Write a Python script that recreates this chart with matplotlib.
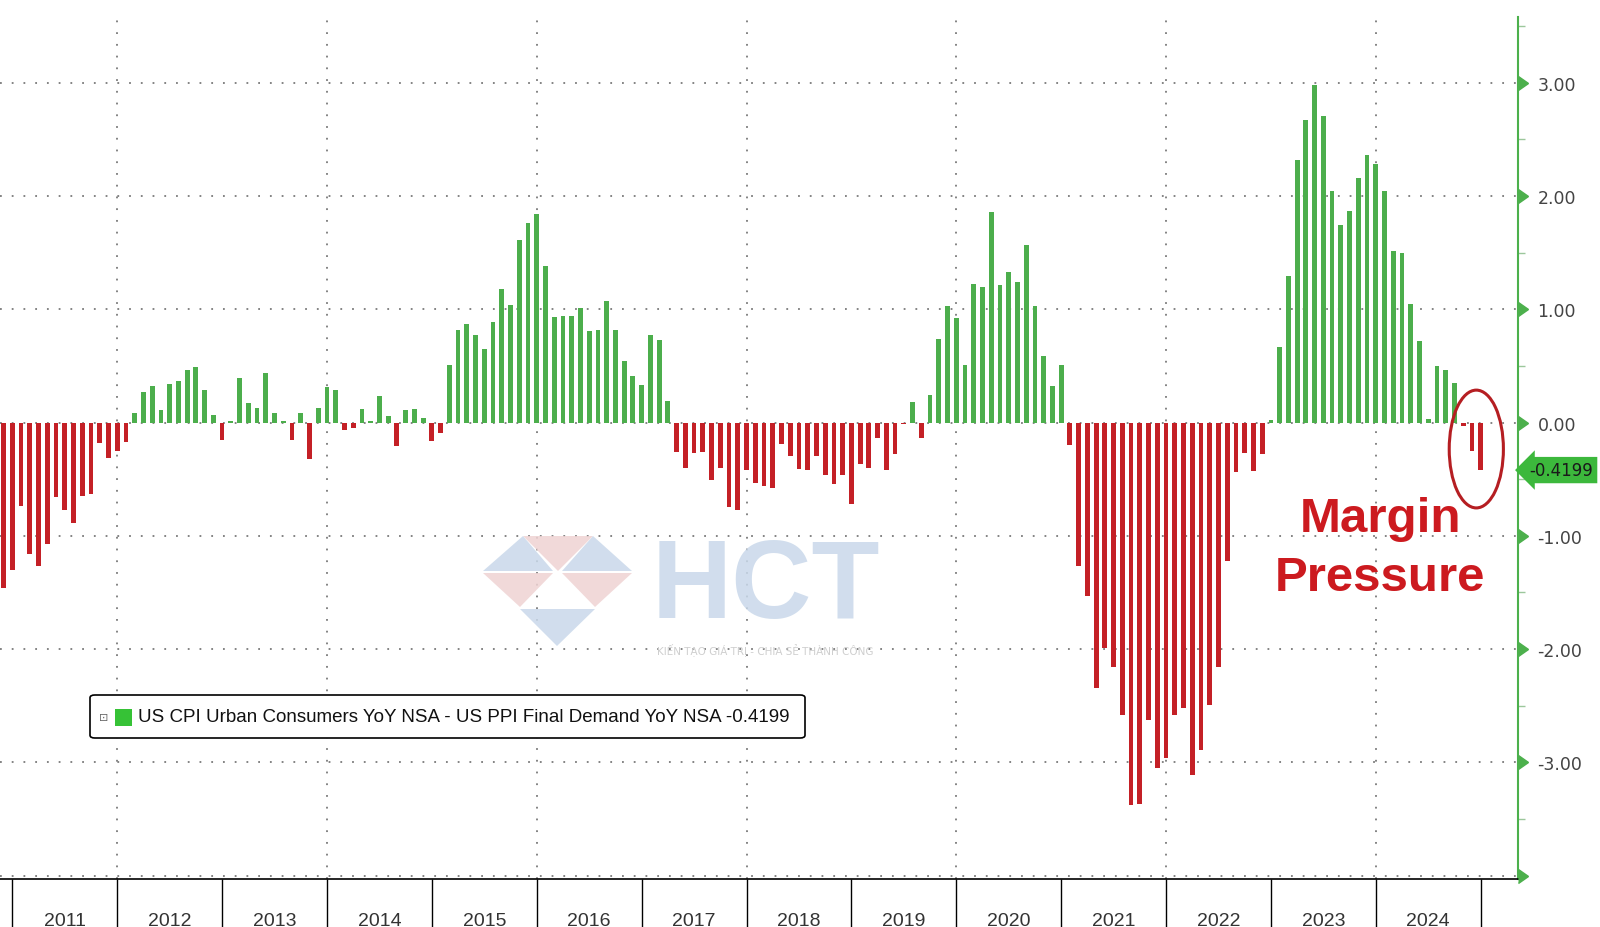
import numpy as np
import pandas as pd
import matplotlib
matplotlib.use('Agg')
import matplotlib.pyplot as plt
import matplotlib.transforms as mtransforms
from matplotlib.patches import Ellipse, Polygon, FancyBboxPatch, Rectangle

plt.rcParams['axes.unicode_minus'] = False

# CPI YoY minus PPI final demand YoY, monthly, Nov 2010 .. Dec 2024
spread = [
    -1.46, -1.30,
    -0.74, -1.16, -1.27, -1.07, -0.66, -0.77, -0.89, -0.65, -0.63, -0.18, -0.31, -0.25,   # 2011
    -0.17, 0.08, 0.27, 0.32, 0.11, 0.34, 0.37, 0.46, 0.49, 0.29, 0.07, -0.15,             # 2012
    0.01, 0.39, 0.17, 0.13, 0.44, 0.08, 0.01, -0.15, 0.08, -0.32, 0.13, 0.31,             # 2013
    0.29, -0.07, -0.05, 0.12, 0.01, 0.23, 0.06, -0.21, 0.11, 0.12, 0.04, -0.16,           # 2014
    -0.09, 0.51, 0.82, 0.87, 0.77, 0.65, 0.89, 1.18, 1.04, 1.61, 1.76, 1.84,              # 2015
    1.38, 0.93, 0.94, 0.94, 1.01, 0.81, 0.82, 1.07, 0.82, 0.54, 0.41, 0.33,               # 2016
    0.77, 0.73, 0.19, -0.26, -0.40, -0.27, -0.26, -0.51, -0.40, -0.75, -0.77, -0.42,      # 2017
    -0.53, -0.56, -0.58, -0.19, -0.30, -0.41, -0.42, -0.30, -0.46, -0.54, -0.46, -0.72,   # 2018
    -0.37, -0.40, -0.14, -0.42, -0.28, -0.01, 0.18, -0.14, 0.24, 0.74, 1.03, 0.92,        # 2019
    0.51, 1.22, 1.20, 1.86, 1.21, 1.33, 1.24, 1.57, 1.03, 0.59, 0.32, 0.51,               # 2020
    -0.20, -1.27, -1.53, -2.34, -1.99, -2.16, -2.58, -3.38, -3.37, -2.63, -3.05, -2.96,   # 2021
    -2.58, -2.52, -3.11, -2.89, -2.49, -2.16, -1.22, -0.44, -0.27, -0.43, -0.28, 0.02,    # 2022
    0.67, 1.29, 2.32, 2.67, 2.98, 2.71, 2.04, 1.74, 1.87, 2.16, 2.36, 2.28,               # 2023
    2.04, 1.51, 1.50, 1.05, 0.72, 0.03, 0.50, 0.46, 0.35, -0.03, -0.25, -0.4199,          # 2024
]
months = pd.date_range('2010-11-30', periods=len(spread), freq='ME')
years = list(range(2011, 2025))
yticks = [-3, -2, -1, 0, 1, 2, 3]
last_value = -0.4199
legend_label = 'US CPI Urban Consumers YoY NSA - US PPI Final Demand YoY NSA -0.4199'

green = '#4cae4c'
red = '#c42026'
axis_green = '#4cb04c'
narrow = ['Liberation Sans Narrow', 'Liberation Sans', 'DejaVu Sans']

W, H = 1600, 928
def fx(p):
    return p / W
def fy(p):
    return 1 - p / H

fig = plt.figure(figsize=(16, 9.28), dpi=100)
ax = fig.add_axes([0, 48 / H, 1518 / W, 862 / H])

x = np.arange(len(spread))
colors = [green if v >= 0 else red for v in spread]
ax.bar(x, spread, width=0.55, color=colors, zorder=3)

ax.set_xlim(-0.41, 173.27)
ax.set_ylim(-4.03, 3.58)

# year boundaries sit on the December bars
bounds = [i for i, m in enumerate(months) if m.month == 12]
centers = [b + 6 for b in bounds[:len(years)]]

# dotted grid
for yv in range(-4, 4):
    ax.axhline(yv, color='#7a7a7a', lw=1.3, ls=(0, (1, 5.5)), zorder=1)
for i, b in enumerate(bounds[:len(years)]):
    if years[i] % 2 == 0:
        ax.axvline(b, color='#7a7a7a', lw=1.3, ls=(0, (1, 5.5)), zorder=1)

for s in ['left', 'top']:
    ax.spines[s].set_visible(False)
ax.spines['right'].set_color(axis_green)
ax.spines['right'].set_linewidth(1.5)
ax.spines['bottom'].set_color('black')
ax.spines['bottom'].set_linewidth(1.2)

# right value axis
ax.yaxis.tick_right()
ax.set_yticks(yticks)
ax.set_yticklabels(['%.2f' % v for v in yticks])
ax.tick_params(axis='y', which='major', length=0, pad=14, labelsize=12.5, labelcolor='#444444')
ax.set_yticks(np.arange(-3.5, 3.6, 1.0), minor=True)
ax.tick_params(axis='y', which='minor', length=5, width=1, color='#9cc79c', direction='out')
trans = mtransforms.blended_transform_factory(ax.transAxes, ax.transData)
ax.plot(np.ones(len(yticks) + 1), yticks + [-4], ls='none', marker=9, ms=10,
        color=axis_green, transform=trans, clip_on=False, zorder=6)

# year band along the bottom
ax.set_xticks(bounds)
ax.set_xticklabels([])
ax.tick_params(axis='x', which='major', length=34.5, width=1, color='black', direction='out')
ax.set_xticks(centers, minor=True)
ax.set_xticklabels([str(y) for y in years], minor=True, fontsize=14, family=narrow, color='#333333')
ax.tick_params(axis='x', which='minor', length=0, pad=24)

# annotation
ax.add_patch(Ellipse((168.5, -0.234), 6.2, 1.04, fill=False, ec='#b51e22', lw=2.2, zorder=5))
ax.text(157.5, -0.954, 'Margin', ha='center', va='baseline', fontsize=35.5,
        fontweight='bold', color='#cc1a1f', family='Liberation Sans', zorder=6)
ax.text(157.5, -1.477, 'Pressure', ha='center', va='baseline', fontsize=35.5,
        fontweight='bold', color='#cc1a1f', family='Liberation Sans', zorder=6)

# last value tag
ax.text(1.0075, last_value, '%.4f' % last_value, transform=trans, ha='left', va='center',
        fontsize=12, color='#1a1a1a', zorder=7, clip_on=False,
        bbox=dict(boxstyle='larrow,pad=0.25', fc='#3cb83c', ec='none'))

# watermark
wm_blue = '#c9d8ea'
wm_pink = '#efd3d3'
tris = [
    ([(523, 537), (593, 537), (558, 572)], wm_pink),
    ([(523, 537), (483, 572), (553, 572)], wm_blue),
    ([(593, 537), (562, 572), (632, 572)], wm_blue),
    ([(483, 574), (553, 574), (520, 608)], wm_pink),
    ([(562, 574), (632, 574), (595, 608)], wm_pink),
    ([(520, 610), (595, 610), (557, 647)], wm_blue),
]
for pts, c in tris:
    fig.add_artist(Polygon([(fx(a), fy(b)) for a, b in pts], closed=True, fc=c, ec='none',
                           alpha=0.85, transform=fig.transFigure, zorder=2))
fig.text(fx(766), fy(618), 'HCT', ha='center', va='baseline', fontsize=80, fontweight='bold',
         color=wm_blue, alpha=0.85, family='Liberation Sans', zorder=2)
fig.text(fx(765), fy(650), 'KIẾN TẠO GIÁ TRỊ - CHIA SẺ THÀNH CÔNG', ha='center', va='center',
         fontsize=7.5, color='#cfcfcf', zorder=2)

# legend box
fig.add_artist(FancyBboxPatch((fx(90), fy(739)), fx(805) - fx(90), fy(696) - fy(739),
                              boxstyle='round,pad=0,rounding_size=0.003', fc='white',
                              ec='black', lw=1.2, transform=fig.transFigure, zorder=3))
fig.add_artist(Rectangle((fx(115), fy(727)), 17 / W, 17 / H, fc='#36c236', ec='none',
                         transform=fig.transFigure, zorder=4))
fig.text(fx(104), fy(718), '⊡', ha='center', va='center', fontsize=8, color='#666666', zorder=4)
fig.text(fx(138), fy(718), legend_label, ha='left', va='center', fontsize=13.5,
         family=narrow, color='#111111', zorder=4)

fig.savefig('out.png', dpi=100, facecolor='white')
